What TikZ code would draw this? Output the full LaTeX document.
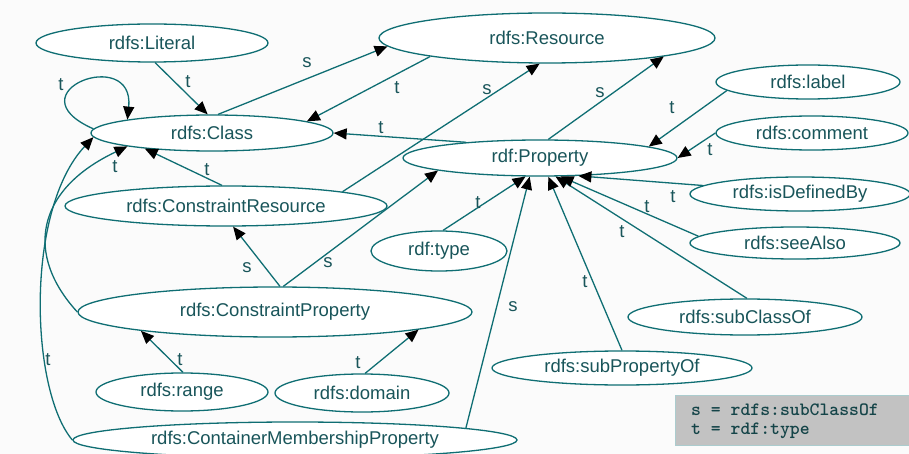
\documentclass[tikz,border=0pt]{standalone}
\usepackage{fontspec}
\setmainfont{Liberation Sans}
\usetikzlibrary{shapes.geometric,arrows.meta}
\definecolor{edgeteal}{RGB}{15,110,115}
\definecolor{textteal}{RGB}{25,85,90}
\definecolor{keygray}{RGB}{194,194,194}
\definecolor{paper}{RGB}{251,251,251}

\begin{document}
\begin{tikzpicture}[x=1pt,y=-1pt,
  rdfnode/.style 2 args={ellipse, draw=edgeteal, line width=1.3pt, fill=white,
    inner sep=0pt, text=textteal, font=\fontsize{18.5}{20}\selectfont,
    minimum width=#1pt, minimum height=#2pt},
  rel/.style={draw=edgeteal, line width=1.3pt,
    -{Triangle[length=13pt,width=11pt,color=black]}},
  lbl/.style={text=textteal, font=\fontsize{18.5}{20}\selectfont, inner sep=0pt},
]
\useasboundingbox (0,0) rectangle (909,454);
\fill[paper] (0,0) rectangle (909,454);

% classes and properties
\node[rdfnode={232}{38}]  (lit)   at (152,43)  {rdfs:Literal};
\node[rdfnode={242}{36}]  (cls)   at (212,133) {rdfs:Class};
\node[rdfnode={336}{50}]  (res)   at (547,38)  {rdfs:Resource};
\node[rdfnode={274}{36}]  (prop)  at (540,158) {rdf:Property};
\node[rdfnode={322}{40}]  (cres)  at (226,206) {rdfs:ConstraintResource};
\node[rdfnode={184}{34}]  (lab)   at (808,82)  {rdfs:label};
\node[rdfnode={192}{34}]  (com)   at (812,133) {rdfs:comment};
\node[rdfnode={220}{34}]  (isdef) at (800,194) {rdfs:isDefinedBy};
\node[rdfnode={210}{32}]  (see)   at (795,243) {rdfs:seeAlso};
\node[rdfnode={234}{36}]  (subc)  at (745,317) {rdfs:subClassOf};
\node[rdfnode={260}{34}]  (subp)  at (622,368) {rdfs:subPropertyOf};
\node[rdfnode={136}{40}]  (type)  at (439,251) {rdf:type};
\node[rdfnode={394}{50}]  (cprop) at (275,312) {rdfs:ConstraintProperty};
\node[rdfnode={172}{38}]  (rng)   at (182,392) {rdfs:range};
\node[rdfnode={174}{38}]  (dom)   at (362,393) {rdfs:domain};
\node[rdfnode={444}{36}]  (cmp)   at (295,440) {rdfs:ContainerMembershipProperty};

% relations into rdfs:Class
\draw[rel] (lit.-81) -- (cls.103);
\draw[rel] (res.189) -- (cls.7);
\draw[rel] (prop.168) -- (cls.east);
\draw[rel] (cls.178) .. controls (10,92) and (135,45) .. (cls.171);
\draw[rel] (cres.101) -- (cls.193);
\draw[rel] (cprop.west) .. controls (25,255) and (35,190) .. (cls.189);
\draw[rel] (cmp.west) .. controls (30,390) and (25,210) .. (cls.182);

% relations into rdfs:Resource
\draw[rel] (cls.72) -- (res.183);
\draw[rel] (cres.7) -- (res.254);
\draw[rel] (prop.66) -- (res.351);

% constraint classes
\draw[rel] (cprop.79) -- (cres.289);
\draw[rel] (cprop.72) -- (prop.187);
\draw[rel] (rng.87) -- (cprop.188);
\draw[rel] (dom.81) -- (cprop.353);

% relations into rdf:Property
\draw[rel] (cmp.4) -- (prop.241);
\draw[rel] (type.79) -- (prop.232);
\draw[rel] (subp.north) -- (prop.294);
\draw[rel] (subc.84) -- (prop.310);
\draw[rel] (see.176) -- (prop.318);
\draw[rel] (isdef.175) -- (prop.335);
\draw[rel] (com.west) -- (prop.east);
\draw[rel] (lab.186) -- (prop.6);

% edge labels
\node[lbl] (l1)  at (188,82)  {t};
\node[lbl] (l2)  at (307,63)  {s};
\node[lbl] (l3)  at (397,88)  {t};
\node[lbl] (l4)  at (381,128) {t};
\node[lbl] (l5)  at (61,85)   {t};
\node[lbl] (l6)  at (207,170) {t};
\node[lbl] (l7)  at (115,167) {t};
\node[lbl] (l8)  at (48,360)  {t};
\node[lbl] (l9)  at (487,90)  {s};
\node[lbl] (l10) at (600,93)  {s};
\node[lbl] (l11) at (247,268) {s};
\node[lbl] (l12) at (328,263) {s};
\node[lbl] (l13) at (180,360) {t};
\node[lbl] (l14) at (358,363) {t};
\node[lbl] (l15) at (513,307) {s};
\node[lbl] (l16) at (478,203) {t};
\node[lbl] (l17) at (585,282) {t};
\node[lbl] (l18) at (622,232) {t};
\node[lbl] (l19) at (647,207) {t};
\node[lbl] (l20) at (673,197) {t};
\node[lbl] (l21) at (710,150) {t};
\node[lbl] (l22) at (672,108) {t};

% legend
\node[rectangle, fill=keygray, draw=edgeteal!35, line width=0.6pt,
      minimum width=250pt, minimum height=50pt, anchor=north west, inner sep=0pt]
      (key) at (675,395) {};
\node[anchor=west, align=left, inner sep=0pt, text=textteal!80!black,
      font=\ttfamily\bfseries\fontsize{18.8}{19}\selectfont]
      (keytext) at (691,421) {s = rdfs:subClassOf\\t = rdf:type};
\end{tikzpicture}
\end{document}
